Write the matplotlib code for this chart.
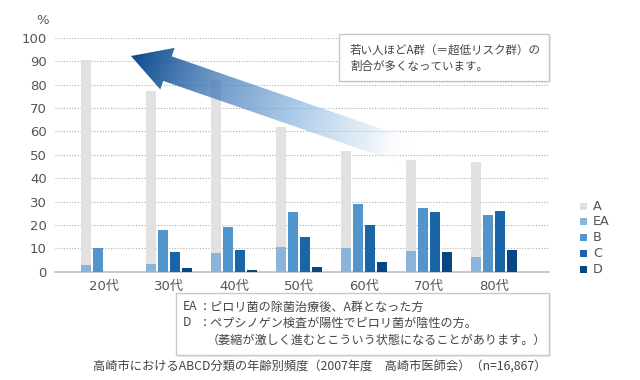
import numpy as np
import matplotlib
matplotlib.use("Agg")
import matplotlib.pyplot as plt
from matplotlib.patches import Polygon, Rectangle

plt.rcParams['font.family'] = ['DejaVu Sans', 'Noto Sans CJK JP']

# data
ages = ['20代', '30代', '40代', '50代', '60代', '70代', '80代']
a_vals = [90.6, 77.4, 82.1, 62.0, 51.7, 47.9, 47.0]
ea_vals = [2.9, 3.3, 8.0, 10.6, 10.2, 8.9, 6.3]
b_vals = [10.0, 17.9, 19.1, 25.6, 29.0, 27.3, 24.3]
c_vals = [0.0, 8.4, 9.3, 14.9, 20.0, 25.6, 26.0]
d_vals = [0.0, 1.6, 0.7, 2.0, 4.2, 8.4, 9.3]
groups = ['A', 'EA', 'B', 'C', 'D']
yticks = [0, 10, 20, 30, 40, 50, 60, 70, 80, 90, 100]

colors = ['#e1e1e1', '#8ab4d9', '#5294cc', '#1a64a8', '#084683']
txt = '#555555'
jp = ['Noto Sans CJK JP', 'DejaVu Sans']

fig = plt.figure(figsize=(6.4, 3.8), dpi=100)
ax = fig.add_axes([55/640, 1 - 271.7/380, 494/640, 233.7/380])

x = np.arange(len(ages))
w = 0.154
ax.bar(x - 0.277, a_vals, w, color=colors[0], zorder=2)
ax.bar(x - 0.277, ea_vals, w, color=colors[1], zorder=3)
ax.bar(x - 0.092, b_vals, w, color=colors[2], zorder=3)
ax.bar(x + 0.092, c_vals, w, color=colors[3], zorder=3)
ax.bar(x + 0.277, d_vals, w, color=colors[4], zorder=3)

ax.set_xlim(-0.754, 6.85)
ax.set_ylim(0, 100)
ax.set_yticks(yticks)
ax.set_yticklabels([str(v) for v in yticks], fontsize=9.5, color=txt)
ax.set_xticks(x)
ax.set_xticklabels(ages, fontsize=9.5, color=txt)
ax.tick_params(length=0, pad=6)
for s in ['top', 'right', 'left']:
    ax.spines[s].set_visible(False)
ax.spines['bottom'].set_color('#c0c0c0')
ax.spines['bottom'].set_linewidth(1.2)
for v in yticks[1:]:
    ax.axhline(v, color='#b0b0b0', lw=0.8, ls=(0, (1, 1.5)), zorder=1)

fig.text(43/640, 1 - 20/380, '%', fontsize=9.5, color=txt, ha='center', va='center')

# overlay axes in pixel coordinates for legend, arrow and boxes
ov = fig.add_axes([0, 0, 1, 1], zorder=5)
ov.axis('off')

# legend
for i, (g, c) in enumerate(zip(groups, colors)):
    yy = 206 + i*15.8
    ov.add_patch(Rectangle((580, yy - 3.5), 7, 7, facecolor=c, edgecolor='none'))
    ov.text(593, yy, g, fontsize=9.2, color=txt, va='center', ha='left')

# gradient arrow
tip = np.array([131.0, 56.0])
ang = np.deg2rad(19.1)
u = np.array([np.cos(ang), np.sin(ang)])
n = np.array([-np.sin(ang), np.cos(ang)])
L, hl, hw, sw = 295, 38.6, 22, 13
pts = [tip, tip + hl*u - hw*n, tip + hl*u - sw*n, tip + L*u - sw*n,
       tip + L*u + sw*n, tip + hl*u + sw*n, tip + hl*u + hw*n]
poly = Polygon(pts, closed=True, facecolor='none', edgecolor='none')
ov.add_patch(poly)
gx, gy = np.meshgrid(np.arange(100, 450), np.arange(30, 190))
t = ((gx - tip[0])*u[0] + (gy - tip[1])*u[1]) / L
tp = [0.0, 0.3, 0.6, 0.85, 1.0]
rgba = np.zeros(gx.shape + (4,))
rgba[..., 0] = np.interp(t, tp, [0.04, 0.22, 0.55, 0.8, 1.0])
rgba[..., 1] = np.interp(t, tp, [0.29, 0.45, 0.72, 0.87, 1.0])
rgba[..., 2] = np.interp(t, tp, [0.55, 0.70, 0.88, 0.95, 1.0])
rgba[..., 3] = np.interp(t, tp, [1.0, 0.72, 0.7, 0.5, 0.0])
im = ov.imshow(rgba, extent=(100, 450, 190, 30), interpolation='bilinear', zorder=5)
im.set_clip_path(poly)
ov.set_xlim(0, 640)
ov.set_ylim(380, 0)

# callout box
ov.add_patch(Rectangle((341, 36), 210, 47, facecolor='#eeeeee', edgecolor='none', zorder=5))
ov.add_patch(Rectangle((339, 34), 210, 47, facecolor='white', edgecolor='#c8c8c8', lw=1, zorder=6))
ov.text(350, 50, '若い人ほどA群（＝超低リスク群）の', fontsize=8.3, color='#444444',
        va='center', family=jp, zorder=7)
ov.text(350, 66, '割合が多くなっています。', fontsize=8.3, color='#444444',
        va='center', family=jp, zorder=7)

# note box
ov.add_patch(Rectangle((178, 295), 373, 62, facecolor='#eeeeee', edgecolor='none', zorder=5))
ov.add_patch(Rectangle((176, 293), 373, 62, facecolor='white', edgecolor='#c8c8c8', lw=1, zorder=6))
ov.text(183, 307, 'EA', fontsize=8.7, color='#444444', va='center', family=jp, zorder=7)
ov.text(199, 307, '：ピロリ菌の除菌治療後、A群となった方', fontsize=8.7, color='#444444',
        va='center', family=jp, zorder=7)
ov.text(183, 323, 'D', fontsize=8.7, color='#444444', va='center', family=jp, zorder=7)
ov.text(199, 323, '：ペプシノゲン検査が陽性でピロリ菌が陰性の方。', fontsize=8.7, color='#444444',
        va='center', family=jp, zorder=7)
ov.text(207, 340, '（萎縮が激しく進むとこういう状態になることがあります。）', fontsize=8.7,
        color='#444444', va='center', family=jp, zorder=7)
ov.text(93, 367, '高崎市におけるABCD分類の年齢別頻度（2007年度　高崎市医師会）（n=16,867）',
        fontsize=8.8, color='#444444', va='center', family=jp, zorder=7)

fig.savefig('out.png', dpi=100)
